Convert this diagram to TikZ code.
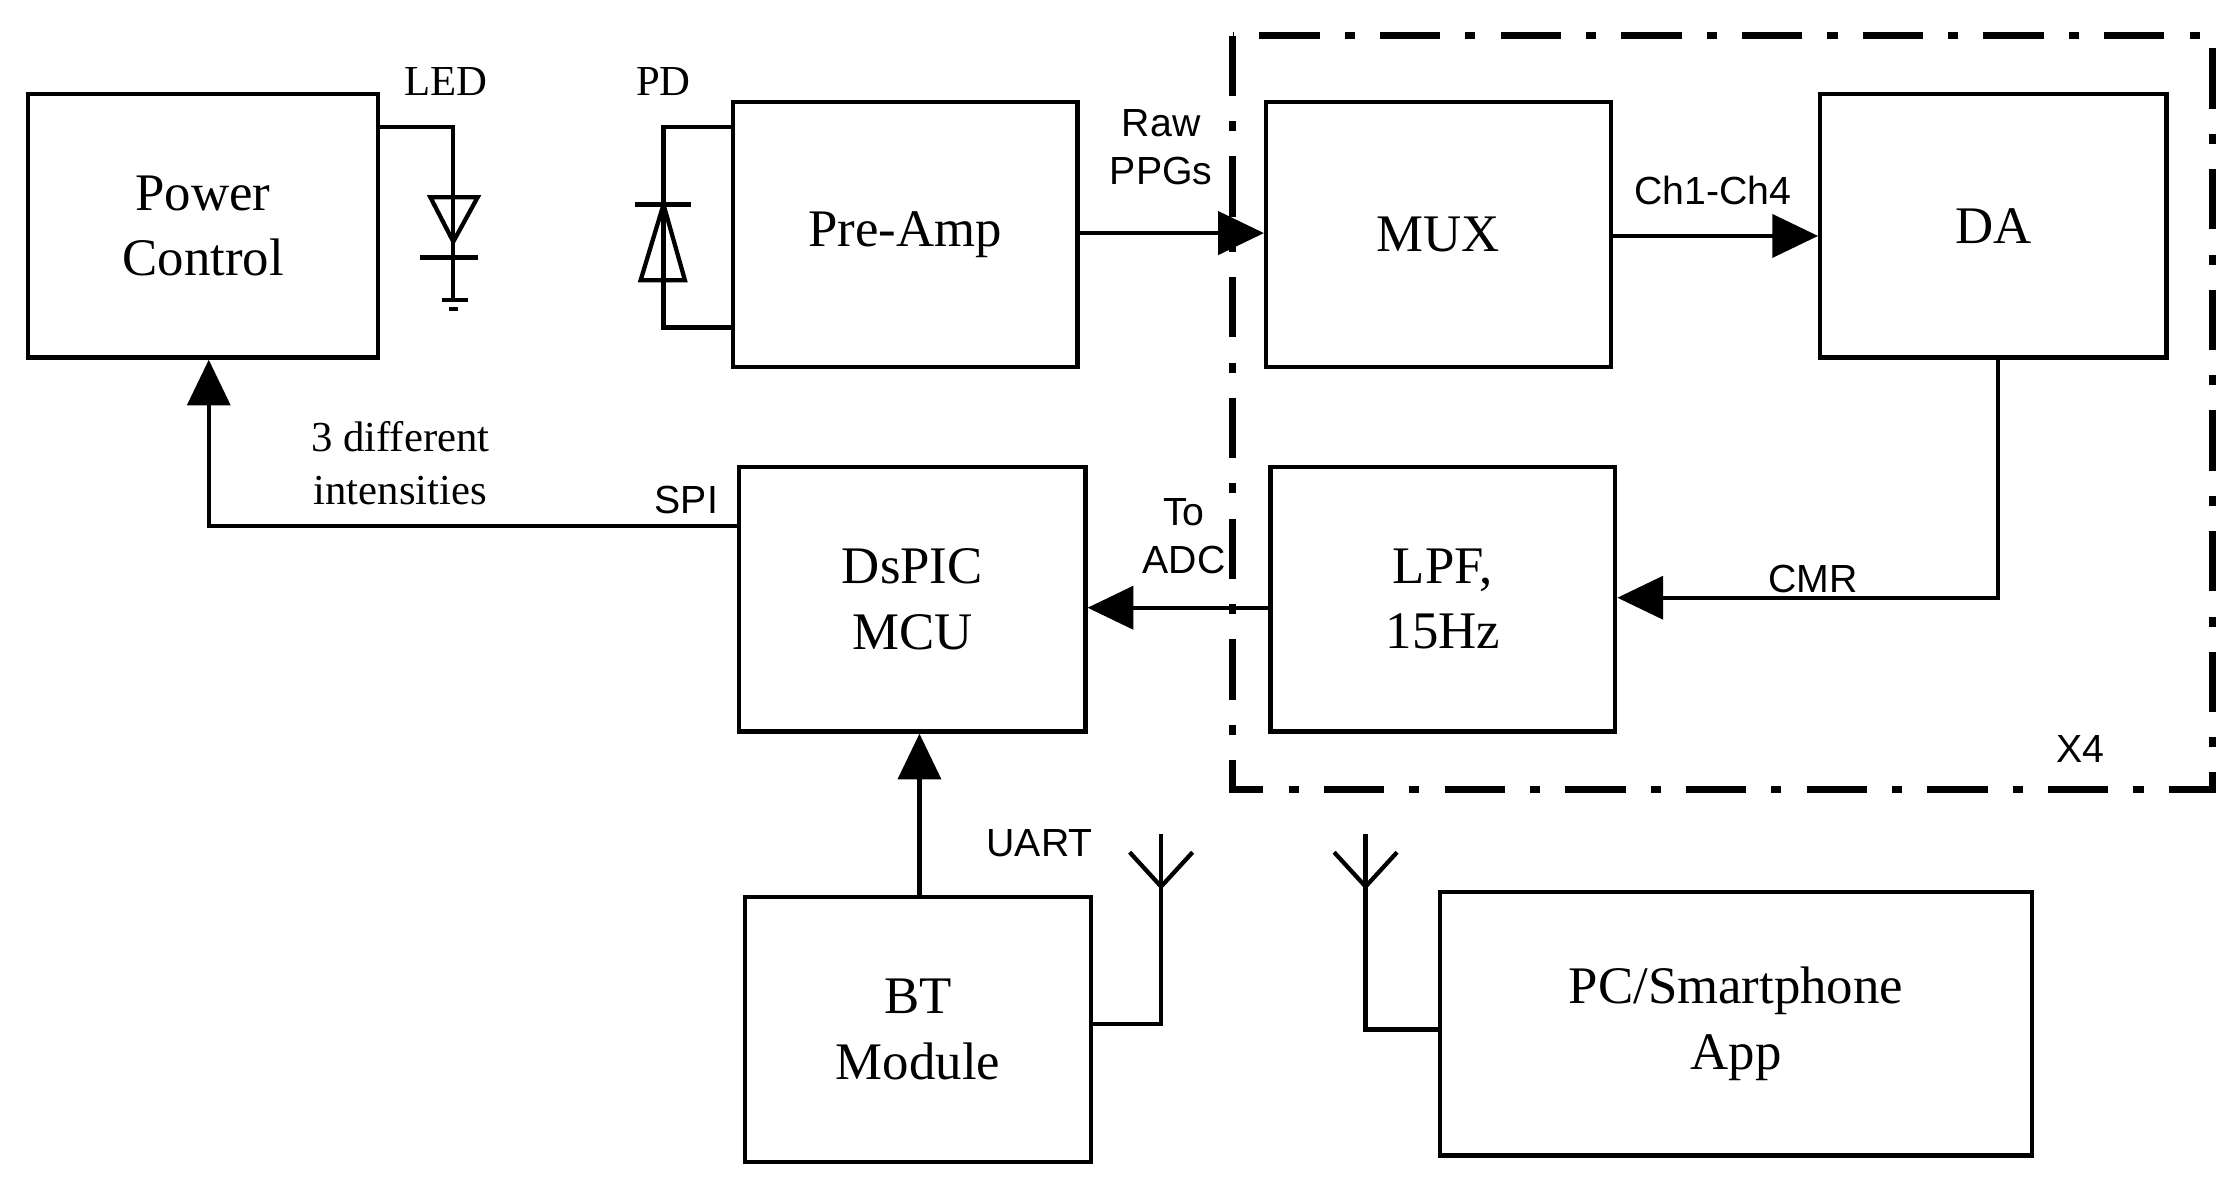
\documentclass[tikz,border=0pt]{standalone}
\usepackage{fontspec}
\setmainfont{Liberation Serif}
\newfontfamily\arialf{Liberation Sans}
\usetikzlibrary{arrows.meta}
\begin{document}
\begin{tikzpicture}[x=0.01cm,y=-0.01cm,
  wire/.style={line width=0.85pt},
  arr/.style={wire,-{Triangle[length=0.32cm,width=0.3cm]}},
  lab/.style={font=\arialf\fontsize{7.8}{9.5}\selectfont,align=center,inner sep=0pt},
  slab/.style={font=\fontsize{8.5}{10.5}\selectfont,align=center,inner sep=0pt},
  bx/.style={draw,line width=0.85pt,align=center,inner sep=0pt,font=\fontsize{10.5}{13}\selectfont}]
\useasboundingbox (0,0) rectangle (1556,830);
\node[bx,minimum width=2.45cm,minimum height=1.84cm] (pc) at (142,158) {Power\\Control};
\node[bx,minimum width=2.41cm,minimum height=1.85cm] (pa) at (633,164) {Pre-Amp};
\node[bx,minimum width=2.41cm,minimum height=1.85cm] (mux) at (1006,164) {MUX};
\node[bx,minimum width=2.42cm,minimum height=1.84cm] (da) at (1394,158) {DA};
\node[bx,minimum width=2.42cm,minimum height=1.85cm] (mcu) at (638,419) {DsPIC\\MCU};
\node[bx,minimum width=2.41cm,minimum height=1.85cm] (lpf) at (1009,419) {LPF,\\15Hz};
\node[bx,minimum width=2.42cm,minimum height=1.85cm] (bt) at (642,720) {BT\\Module};
\node[bx,minimum width=4.14cm,minimum height=1.84cm] (app) at (1214,716) {PC/Smartphone\\App};
\draw[line width=1.4pt,dash pattern=on 12pt off 5pt on 2pt off 5pt] (862,25) rectangle (1547,552);
\node[lab] at (1455,524) {X4};
% LED
\coordinate (l1) at (317,89);
\draw[wire] (pc.east |- l1) -- (l1) -- (317,210);
\draw[wire] (301,138) -- (334,138) -- (317,169) -- cycle;
\draw[wire] (294,180) -- (334,180);
\draw[wire] (309,210) -- (327,210);
\draw[wire] (314,216) -- (320,216);
\node[slab] at (312,57) {LED};
% PD
\coordinate (p1) at (464,89);
\coordinate (p2) at (464,229);
\draw[wire] (pa.west |- p1) -- (p1) -- (p2) -- (pa.west |- p2);
\draw[wire] (444,143) -- (483,143);
\draw[wire] (464,143) -- (448,196) -- (479,196) -- cycle;
\node[slab] at (464,57) {PD};
% arrows
\draw[arr] (pa.east |- 0,163) -- (mux.west |- 0,163);
\node[lab] at (812,103) {Raw\\PPGs};
\draw[arr] (mux.east |- 0,165) -- (da.west |- 0,165);
\node[lab] at (1198,133) {Ch1-Ch4};
\coordinate (c1) at (1397,418);
\draw[arr] (da.south -| c1) -- (c1) -- (lpf.east |- c1);
\node[lab] at (1268,405) {CMR};
\draw[arr] (lpf.west |- 0,425) -- (mcu.east |- 0,425);
\node[lab] at (828,375) {To\\ADC};
\coordinate (s1) at (146,368);
\draw[arr] (mcu.west |- s1) -- (s1) -- (pc.south -| s1);
\node[lab] at (480,350) {SPI};
\node[slab] at (280,324) {3 different\\intensities};
\coordinate (u1) at (643,0);
\draw[arr] (bt.north -| u1) -- (mcu.south -| u1);
\node[lab] at (727,590) {UART};
% antennas
\coordinate (a1) at (812,716);
\draw[wire] (bt.east |- a1) -- (a1) -- (812,583);
\draw[wire] (790,596) -- (812,620) -- (834,596);
\coordinate (a2) at (955,720);
\draw[wire] (app.west |- a2) -- (a2) -- (955,583);
\draw[wire] (933,596) -- (955,620) -- (977,596);
\end{tikzpicture}
\end{document}
